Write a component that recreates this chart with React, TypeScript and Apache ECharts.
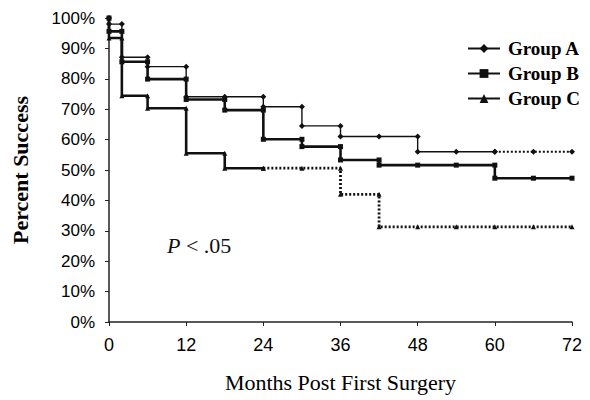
import React, { useEffect, useRef } from "react";
import * as echarts from "echarts";

// Kaplan-Meier style step data (months, percent success); duplicate months mark the drops
const monthsA = [0, 0, 2, 2, 6, 6, 12, 12, 18, 24, 24, 30, 30, 36, 36, 42, 48, 48, 54, 60];
const valuesA = [100, 98, 98, 87.1, 87.1, 84, 84, 74.1, 74.1, 74.1, 70.8, 70.8, 64.5, 64.5, 61, 61, 61, 56, 56, 56];
const monthsADotted = [60, 66, 72];
const valuesADotted = [56, 56, 56];

const monthsB = [0, 0, 2, 2, 6, 6, 12, 12, 18, 18, 24, 24, 30, 30, 36, 36, 42, 42, 48, 54, 60, 60, 66, 72];
const valuesB = [100, 95.6, 95.6, 85.6, 85.6, 79.9, 79.9, 73.2, 73.2, 69.7, 69.7, 60.1, 60.1, 57.7, 57.7, 53.3, 53.3, 51.6, 51.6, 51.6, 51.6, 47.3, 47.3, 47.3];

const monthsC = [0, 0, 2, 2, 6, 6, 12, 12, 18, 18, 24];
const valuesC = [100, 93.4, 93.4, 74.4, 74.4, 70.3, 70.3, 55.5, 55.5, 50.6, 50.6];
const monthsCDotted = [24, 30, 36, 36, 42, 42, 48, 54, 60, 66, 72];
const valuesCDotted = [50.6, 50.6, 50.6, 42, 42, 31.3, 31.3, 31.3, 31.3, 31.3, 31.3];

const groupNames = ["Group A", "Group B", "Group C"];
const xTicks = { min: 0, max: 72, interval: 12 };
const yTicks = { min: 0, max: 100, interval: 10 };

const pairs = (xs: number[], ys: number[]) => xs.map((x, i) => [x, ys[i]]);

export default function App() {
  const ref = useRef<HTMLDivElement>(null);
  useEffect(() => {
    if (!ref.current) return;
    const chart = echarts.init(ref.current, undefined, { renderer: "svg" });
    const ink = "#111";
    const base = (name: string, data: number[][], symbol: string, size: number, width: number, type: any) => ({
      name,
      type: "line",
      data,
      symbol,
      symbolSize: size,
      showSymbol: true,
      itemStyle: { color: ink },
      lineStyle: { color: ink, width, type },
      emphasis: { disabled: true },
    });
    chart.setOption({
      animation: false,
      backgroundColor: "#fff",
      grid: { left: 109, right: 18, top: 18, bottom: 78, containLabel: false },
      legend: {
        data: groupNames,
        orient: "vertical",
        left: 462,
        top: 34,
        itemWidth: 32,
        itemHeight: 11,
        itemGap: 6,
        textStyle: {
          fontFamily: "Liberation Serif",
          fontWeight: "bold",
          fontSize: 19,
          color: "#000",
          padding: [0, 0, 0, 3],
        },
      },
      xAxis: {
        type: "value",
        min: xTicks.min,
        max: xTicks.max,
        interval: xTicks.interval,
        name: "Months Post First Surgery",
        nameLocation: "middle",
        nameGap: 49,
        nameTextStyle: { fontFamily: "Liberation Serif", fontSize: 22, color: "#000" },
        axisLine: { lineStyle: { color: "#222", width: 1.5 } },
        axisTick: { show: true, length: 4, lineStyle: { color: "#222" } },
        axisLabel: { fontFamily: "Liberation Sans", fontSize: 18, color: "#000", margin: 14 },
        splitLine: { show: false },
      },
      yAxis: {
        type: "value",
        min: yTicks.min,
        max: yTicks.max,
        interval: yTicks.interval,
        name: "Percent Success",
        nameLocation: "middle",
        nameGap: 78,
        nameTextStyle: { fontFamily: "Liberation Serif", fontWeight: "bold", fontSize: 22, color: "#000" },
        axisLine: { show: true, lineStyle: { color: "#222", width: 1.5 } },
        axisTick: { show: true, length: 4, lineStyle: { color: "#222" } },
        axisLabel: { fontFamily: "Liberation Sans", fontSize: 17, color: "#000", margin: 14, formatter: "{value}%" },
        splitLine: { show: false },
      },
      graphic: [
        {
          type: "text",
          left: 167,
          top: 234,
          style: {
            text: "{i|P} < .05",
            font: "22px 'Liberation Serif'",
            fill: "#111",
            rich: { i: { fontStyle: "italic", fontFamily: "Liberation Serif", fontSize: 22, fill: "#111" } },
          },
        },
      ],
      series: [
        base("Group A", pairs(monthsA, valuesA), "diamond", 6, 1.4, "solid"),
        base("Group A dotted", pairs(monthsADotted, valuesADotted), "diamond", 6, 2.2, [2, 2]),
        base("Group B", pairs(monthsB, valuesB), "rect", 5, 2.6, "solid"),
        base("Group C", pairs(monthsC, valuesC), "triangle", 5, 2.6, "solid"),
        base("Group C dotted", pairs(monthsCDotted, valuesCDotted), "triangle", 5, 2.8, [2, 2]),
      ],
    });
    return () => chart.dispose();
  }, []);
  return <div ref={ref} style={{ position: "fixed", left: 0, top: 0, width: 590, height: 400, background: "#fff" }} />;
}
